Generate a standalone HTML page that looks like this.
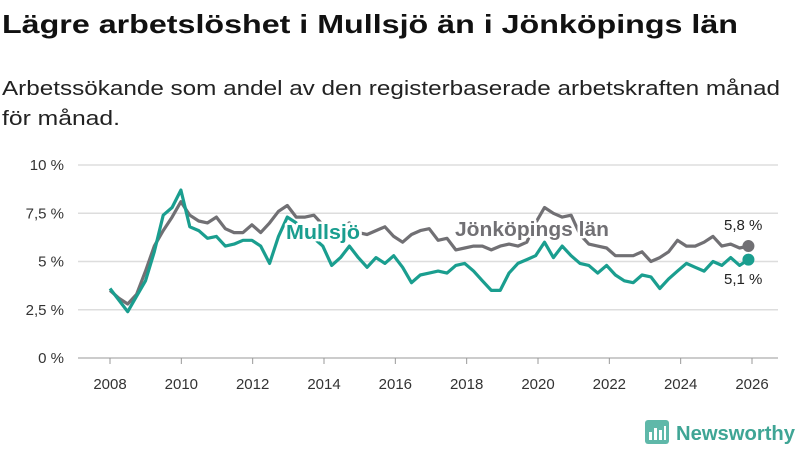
<!DOCTYPE html>
<html><head><meta charset="utf-8">
<style>
html,body{margin:0;padding:0;background:#fff;}
svg{display:block;font-family:"Liberation Sans",sans-serif;}
</style></head>
<body>
<svg width="800" height="450" viewBox="0 0 800 450">
  <text x="2" y="33" font-size="26" font-weight="bold" fill="#111" textLength="736" lengthAdjust="spacingAndGlyphs">Lägre arbetslöshet i Mullsjö än i Jönköpings län</text>
  <text x="2" y="95" font-size="20" fill="#222" textLength="778" lengthAdjust="spacingAndGlyphs">Arbetssökande som andel av den registerbaserade arbetskraften månad</text>
  <text x="2" y="125" font-size="20" fill="#222" textLength="118" lengthAdjust="spacingAndGlyphs">för månad.</text>
  <g id="grid"></g>
  <g id="yaxis"></g>
  <g id="xaxis"></g>
  <g id="series"></g>
  <g id="labels"></g>
  <g>
    <rect x="645" y="420" width="24" height="24" rx="3" fill="#5fb8a9"/>
    <rect x="649" y="432" width="3" height="8" fill="#fff"/>
    <rect x="654" y="428" width="3" height="12" fill="#fff"/>
    <rect x="659" y="430" width="3" height="10" fill="#fff"/>
    <rect x="664" y="426" width="2" height="14" fill="#fff"/>
    <text x="676" y="440" font-size="20" font-weight="bold" fill="#3fa595" textLength="119" lengthAdjust="spacingAndGlyphs">Newsworthy</text>
  </g>
</svg>
<script>
const yTicks = [0, 2.5, 5, 7.5, 10];
const yTickLabels = ["0 %", "2,5 %", "5 %", "7,5 %", "10 %"];
const xTicks = [2008, 2010, 2012, 2014, 2016, 2018, 2020, 2022, 2024, 2026];
const startYear = 2008;
const stepYears = 0.25;
const jonkoping = [3.5,3.1,2.8,3.3, 4.5,5.8,6.6,7.3, 8.1,7.4,7.1,7.0, 7.3,6.7,6.5,6.5, 6.9,6.5,7.0,7.6, 7.9,7.3,7.3,7.4, 6.9,6.6,6.7,7.0, 6.5,6.4,6.6,6.8, 6.3,6.0,6.4,6.6, 6.7,6.1,6.2,5.6, 5.7,5.8,5.8,5.6, 5.8,5.9,5.8,6.0, 7.0,7.8,7.5,7.3, 7.4,6.4,5.9,5.8, 5.7,5.3,5.3,5.3, 5.5,5.0,5.2,5.5, 6.1,5.8,5.8,6.0, 6.3,5.8,5.9,5.7, 5.8];
const mullsjo = [3.6,3.0,2.4,3.2, 4.0,5.5,7.4,7.8, 8.7,6.8,6.6,6.2, 6.3,5.8,5.9,6.1, 6.1,5.8,4.9,6.3, 7.3,7.0,6.5,6.2, 5.8,4.8,5.2,5.8, 5.2,4.7,5.2,4.9, 5.3,4.7,3.9,4.3, 4.4,4.5,4.4,4.8, 4.9,4.5,4.0,3.5, 3.5,4.4,4.9,5.1, 5.3,6.0,5.2,5.8, 5.3,4.9,4.8,4.4, 4.8,4.3,4.0,3.9, 4.3,4.2,3.6,4.1, 4.5,4.9,4.7,4.5, 5.0,4.8,5.2,4.8, 5.1];
const lastLabels = ["5,8 %", "5,1 %"];

const NS = "http://www.w3.org/2000/svg";
const X0 = 110, X1 = 752, Y0 = 358, Y1 = 165;
const xS = t => X0 + (t - 2008) * (X1 - X0) / 18;
const yS = v => Y0 - v * (Y0 - Y1) / 10;
function mk(tag, attrs, parent) {
  const e = document.createElementNS(NS, tag);
  for (const k in attrs) e.setAttribute(k, attrs[k]);
  parent.appendChild(e);
  return e;
}
const grid = document.getElementById('grid'), ya = document.getElementById('yaxis'), xa = document.getElementById('xaxis');
yTicks.forEach((v, i) => {
  const l = mk('line', {x1: 78, x2: 778, y1: yS(v), y2: yS(v), stroke: i === 0 ? '#bbb' : '#ddd', 'stroke-width': 1.5}, grid);
  
  
  const t = mk('text', {x: 64, y: yS(v) + 5, 'font-size': 15, fill: '#333', 'text-anchor': 'end'}, ya);
  
  
  t.textContent = yTickLabels[i];
});
xTicks.forEach(yr => {
  const x = xS(yr);
  const l = mk('line', {x1: x, x2: x, y1: 358, y2: 364, stroke: '#999', 'stroke-width': 1}, xa);
  
  
  const t = mk('text', {x: x, y: 389, 'font-size': 15, fill: '#333', 'text-anchor': 'middle'}, xa);
  
  
  t.textContent = yr;
});
const ser = document.getElementById('series');
function drawLine(arr, color, name) {
  const d = arr.map((v, i) => (i ? 'L' : 'M') + xS(startYear + i * stepYears * (17.9/18)).toFixed(1) + ',' + yS(v).toFixed(1)).join(' ');
  const p = mk('path', {d: d, fill: 'none', stroke: color, 'stroke-width': 3.2, 'stroke-linejoin': 'round'}, ser);
  
  
  const n = arr.length - 1;
  const c = mk('circle', {cx: xS(startYear + n * stepYears * (17.9/18)), cy: yS(arr[n]), r: 6, fill: color}, ser);
  
  
}
drawLine(jonkoping, '#717074', 'jonkoping-line');
drawLine(mullsjo, '#1a9e8f', 'mullsjo-line');
const lab = document.getElementById('labels');
function label(x, y, txt, color, name, bold, len) {
  const attrs = {x: x, y: y, 'font-size': bold ? 20 : 15, 'font-weight': bold ? 'bold' : 'normal', fill: color, stroke: bold ? '#fff' : 'none', 'stroke-width': bold ? 5 : 0, 'paint-order': 'stroke', 'stroke-linejoin': 'round'};
  if (len) { attrs.textLength = len; attrs.lengthAdjust = 'spacingAndGlyphs'; }
  const t = mk('text', attrs, lab);
  
  
  t.textContent = txt;
}
label(286, 239, 'Mullsjö', '#1a9e8f', 'mullsjo-label', true, 74);
label(455, 236, 'Jönköpings län', '#717074', 'jonkoping-label', true, 154);
label(724, 230, lastLabels[0], '#222', 'jonkoping-last-value', false);
label(724, 284, lastLabels[1], '#222', 'mullsjo-last-value', false);
</script>
</body></html>
